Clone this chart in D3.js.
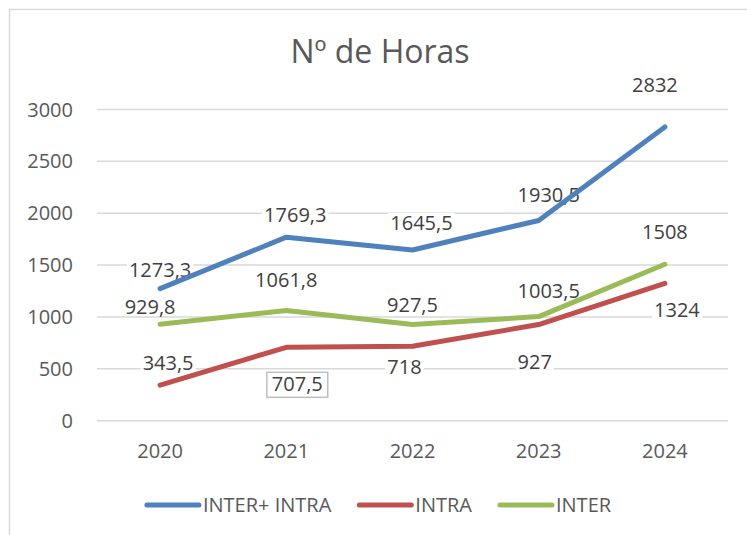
<!DOCTYPE html>
<html>
<head>
<meta charset="utf-8">
<script src="https://cdn.jsdelivr.net/npm/d3@7"></script>
<style>
  body { margin: 0; background: #fff; }
  svg { display: block; font-family: "Open Sans", sans-serif; }
</style>
</head>
<body>
<div id="chart"></div>
<script>
// data
const years = ["2020", "2021", "2022", "2023", "2024"];
const interIntra = [1273.3, 1769.3, 1645.5, 1930.5, 2832];
const intra = [343.5, 707.5, 718, 927, 1324];
const inter = [929.8, 1061.8, 927.5, 1003.5, 1508];
const yTicks = [0, 500, 1000, 1500, 2000, 2500, 3000];
const seriesNames = ["INTER+ INTRA", "INTRA", "INTER"];

// where each data label sits relative to its point (label centre)
const labelOffsets = [
  [[0, -19], [9, -22], [9, -27], [10, -25], [-10, -42]],
  [[8, -22], [11, 37], [-8, 21], [-4, 37], [12, 27]],
  [[-10, -17], [0, -31], [0, -19], [10, -26], [0, -32]]
];

const W = 747, H = 535;
const colors = ["#4F81BD", "#C0504D", "#9BBB59"];
const series = [interIntra, intra, inter];

const fmt = v => String(v).replace(".", ",");

const svg = d3.select("#chart").append("svg")
    .attr("width", W)
    .attr("height", H);

// chart area border
svg.append("rect")
    .attr("x", 9.5).attr("y", 9.5)
    .attr("width", W + 20).attr("height", H + 20)
    .attr("fill", "#fff")
    .attr("stroke", "#d9d9d9")
    .attr("stroke-width", 1.5);

const x = d3.scalePoint().domain(years).range([97, 728]).padding(0.5);
const y = d3.scaleLinear().domain([0, 3000]).range([420.7, 109.5]);

// title
svg.append("text")
    .attr("x", 380).attr("y", 63)
    .attr("text-anchor", "middle")
    .attr("fill", "#595959")
    .attr("font-size", 32)
    .text("Nº de Horas");

// gridlines
svg.append("g")
  .selectAll("line")
  .data(yTicks)
  .join("line")
    .attr("x1", 97).attr("x2", 728)
    .attr("y1", d => y(d)).attr("y2", d => y(d))
    .attr("stroke", "#d9d9d9")
    .attr("stroke-width", 1.5);

// y tick labels
svg.append("g")
  .selectAll("text")
  .data(yTicks)
  .join("text")
    .attr("x", 73)
    .attr("y", d => y(d) + 7)
    .attr("text-anchor", "end")
    .attr("fill", "#595959")
    .attr("font-size", 20)
    .text(d => d);

// x tick labels
svg.append("g")
  .selectAll("text")
  .data(years)
  .join("text")
    .attr("x", d => x(d))
    .attr("y", 458)
    .attr("text-anchor", "middle")
    .attr("fill", "#595959")
    .attr("font-size", 20)
    .text(d => d);

// data labels (white box behind, drawn before the lines)
const labelLayer = svg.append("g");

// lines
const line = d3.line()
    .x((d, i) => x(years[i]))
    .y(d => y(d));

svg.append("g")
  .selectAll("path")
  .data(series)
  .join("path")
    .attr("d", d => line(d))
    .attr("fill", "none")
    .attr("stroke", (d, i) => colors[i])
    .attr("stroke-width", 5)
    .attr("stroke-linecap", "round")
    .attr("stroke-linejoin", "round");

series.forEach((vals, s) => {
  vals.forEach((v, i) => {
    const cx = x(years[i]) + labelOffsets[s][i][0];
    const cy = y(v) + labelOffsets[s][i][1];
    const g = labelLayer.append("g");
    const bg = g.append("rect");
    const t = g.append("text")
        .attr("x", cx).attr("y", cy + 7)
        .attr("text-anchor", "middle")
        .attr("fill", "#404040")
        .attr("font-size", 20)
        .text(fmt(v));
    const b = t.node().getBBox();
    const boxed = (s === 1 && i === 1);
    if (boxed) {
      bg.attr("x", b.x - 5).attr("y", cy - 12)
        .attr("width", b.width + 10).attr("height", 25)
        .attr("fill", "#fff")
        .attr("stroke", "#bfbfbf")
        .attr("stroke-width", 1.5);
    } else {
      bg.attr("x", b.x - 2).attr("y", cy - 10)
        .attr("width", b.width + 4).attr("height", 18)
        .attr("fill", "#fff");
    }
  });
});

// legend
const legend = svg.append("g");
let lx = 0;
seriesNames.forEach((name, i) => {
  const it = legend.append("g");
  it.append("line")
      .attr("x1", lx + 2).attr("x2", lx + 54)
      .attr("y1", 505).attr("y2", 505)
      .attr("stroke", colors[i])
      .attr("stroke-width", 5)
      .attr("stroke-linecap", "round");
  const t = it.append("text")
      .attr("x", lx + 58).attr("y", 512)
      .attr("fill", "#595959")
      .attr("font-size", 20)
      .text(name);
  lx += 58 + t.node().getComputedTextLength() + 26;
});
const legendW = lx - 26;
legend.attr("transform", `translate(${378 - legendW / 2},0)`);
</script>
</body>
</html>
